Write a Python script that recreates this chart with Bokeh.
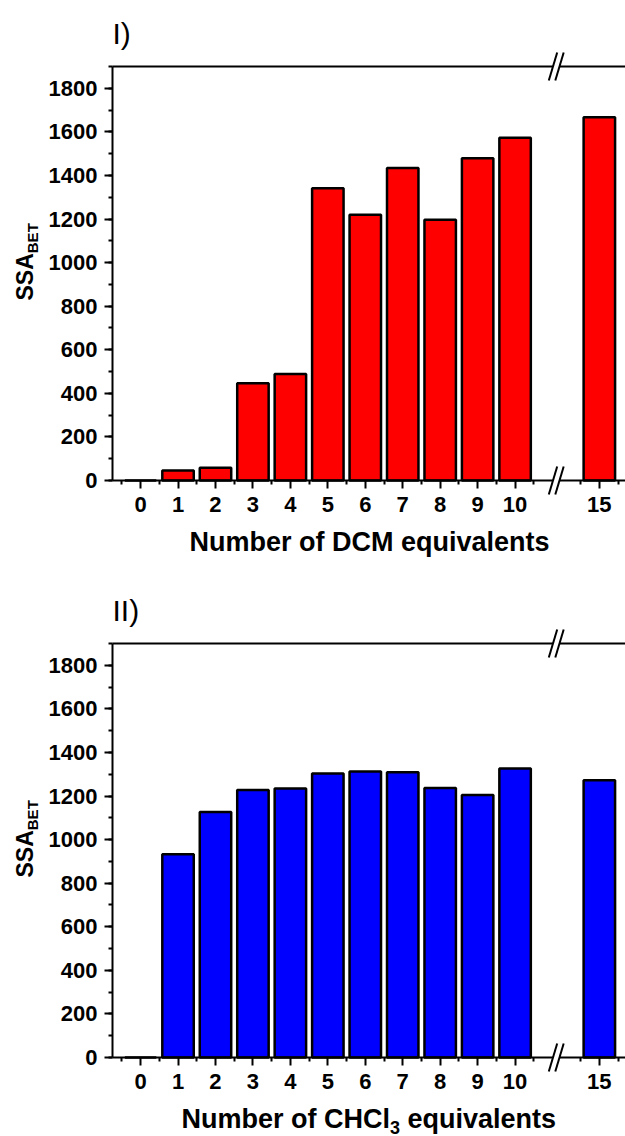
from bokeh.plotting import figure
from bokeh.models import (LinearAxis, FixedTicker, SingleIntervalTicker, Range1d,
                          Label, PolyAnnotation, ColumnDataSource)
from bokeh.layouts import column
from bokeh.embed import file_html
from bokeh.resources import INLINE

# ---------------- data ----------------
equivalents = [0, 1, 2, 3, 4, 5, 6, 7, 8, 9, 10, 15]
tick_labels = ["0", "1", "2", "3", "4", "5", "6", "7", "8", "9", "10", "15"]
ssa_dcm = [0, 46, 58, 446, 489, 1341, 1220, 1434, 1197, 1479, 1573, 1667]
ssa_chcl3 = [0, 933, 1127, 1228, 1235, 1303, 1312, 1309, 1237, 1205, 1326, 1272]

# broken x axis: values up to 10 keep their place, 15 is drawn at 12.25
BREAK_END = 10
RESUME_VALUE = 15
RESUME_POS = 12.25


def axis_pos(v):
    return v if v <= BREAK_END else RESUME_POS + (v - RESUME_VALUE)


FONT = "Liberation Sans"
W = 625
AX_LEFT_PX = 112          # pixel column of the y axis
AX_TOP_PX = 66            # pixel row of the top border
AX_ZERO_PX = 480          # pixel row of the x axis
X_START = -0.75
Y_MAX = 1900
PX_PER_X = 37.45
PX_PER_Y = (AX_ZERO_PX - AX_TOP_PX) / Y_MAX
X_END = X_START + (W - AX_LEFT_PX) / PX_PER_X
BASE_SHIFT = 0.35         # label anchor correction (fraction of font size)


def px_x(px):
    return X_START + (px - AX_LEFT_PX) / PX_PER_X


def px_y(py):
    return (AX_ZERO_PX - py) / PX_PER_Y


def text_label(px, py, text, size, style="bold", angle=0):
    if angle:
        px = px - BASE_SHIFT * size
    else:
        py = py - BASE_SHIFT * size
    return Label(x=px_x(px), y=px_y(py), text=text, angle=angle, angle_units="deg",
                 text_font=FONT, text_font_size=f"{size}px", text_font_style=style,
                 text_color="black", text_align="left", text_baseline="alphabetic")


def make_panel(values, color, panel_title, xlabel_parts, height):
    p = figure(width=W, height=height, output_backend="svg", toolbar_location=None,
               x_range=Range1d(px_x(0), px_x(W)), y_range=Range1d(px_y(height), px_y(0)),
               x_axis_location=None, y_axis_location=None,
               min_border=0, min_border_left=0, min_border_right=0,
               min_border_top=0, min_border_bottom=0)
    p.outline_line_color = None
    p.xgrid.visible = False
    p.ygrid.visible = False
    p.background_fill_color = "white"
    p.border_fill_color = "white"

    src = ColumnDataSource(dict(pos=[axis_pos(v) for v in equivalents], ssa=values))
    p.vbar(x="pos", top="ssa", bottom=0, width=0.84, source=src,
           fill_color=color, line_color="black", line_width=2.5)

    common = dict(axis_line_width=2, axis_line_color="black",
                  major_tick_line_width=2, minor_tick_line_width=2,
                  major_tick_in=0, major_tick_out=8, minor_tick_in=0, minor_tick_out=4,
                  major_label_text_font=FONT, major_label_text_font_style="bold",
                  major_label_text_font_size="22px", major_label_text_color="black")

    yax = LinearAxis(ticker=SingleIntervalTicker(interval=200, num_minor_ticks=2),
                     fixed_location=X_START, bounds=(0, Y_MAX),
                     major_label_standoff=7, **common)
    p.add_layout(yax, "left")

    major = [axis_pos(v) for v in equivalents]
    minor = [v + 0.5 for v in range(-1, BREAK_END + 1)] + \
        [axis_pos(RESUME_VALUE - 0.5), axis_pos(RESUME_VALUE + 0.5)]
    xax = LinearAxis(ticker=FixedTicker(ticks=major, minor_ticks=minor),
                     major_label_overrides={axis_pos(v): t for v, t in zip(equivalents, tick_labels)},
                     fixed_location=0, bounds=(X_START, X_END),
                     major_label_standoff=8, **common)
    p.add_layout(xax, "below")

    top = LinearAxis(ticker=FixedTicker(ticks=[]), axis_line_width=2,
                     fixed_location=Y_MAX, bounds=(X_START, X_END),
                     major_tick_line_color=None, minor_tick_line_color=None,
                     major_label_text_font_size="0px")
    p.add_layout(top, "above")

    # axis break marks on the bottom and top lines
    c1, c2 = px_x(552.5), px_x(559)
    hh = 14 / PX_PER_Y
    hw = 4.2 / PX_PER_X
    g = 3 / PX_PER_Y
    for yb in (0, Y_MAX):
        p.add_layout(PolyAnnotation(xs=[c1, c2, c2, c1], ys=[yb - g, yb - g, yb + g, yb + g],
                                    fill_color="white", fill_alpha=1, line_color=None,
                                    level="overlay"))
        for c in (c1, c2):
            p.add_layout(PolyAnnotation(xs=[c - hw, c + hw], ys=[yb - hh, yb + hh],
                                        fill_alpha=0, line_color="black", line_alpha=1,
                                        line_width=2, level="overlay"))

    # panel title
    p.add_layout(text_label(112, 43, panel_title, 30, style="normal"))

    # y axis label SSA_BET
    ssa_size, bet_size = 23, 15
    p.add_layout(text_label(33, 300, "SSA", ssa_size, angle=90))
    p.add_layout(text_label(37, 300 - 2.056 * ssa_size, "BET", bet_size, angle=90))

    # x axis label (with optional subscript)
    xpx = xlabel_parts[0][0]
    for txt, size, shift, width in xlabel_parts[1:]:
        p.add_layout(text_label(xpx, 551 + shift, txt, size))
        xpx += width
    return p


fs = 27
p1 = make_panel(ssa_dcm, "#FF0000", "I)",
                [(369 - 13.335 * fs / 2,), ("Number of DCM equivalents", fs, 0, 0)], 577)
p2 = make_panel(ssa_chcl3, "#0000FF", "II)",
                [(181,),
                 ("Number of CHCl", fs, 0, 7.721 * fs),
                 ("3", 18, 5, 0.556 * 18 + 0.278 * fs),
                 ("equivalents", fs, 0, 0)], 559)

layout = column(p1, p2, spacing=0)
open("out.html", "w").write(file_html(layout, INLINE))
